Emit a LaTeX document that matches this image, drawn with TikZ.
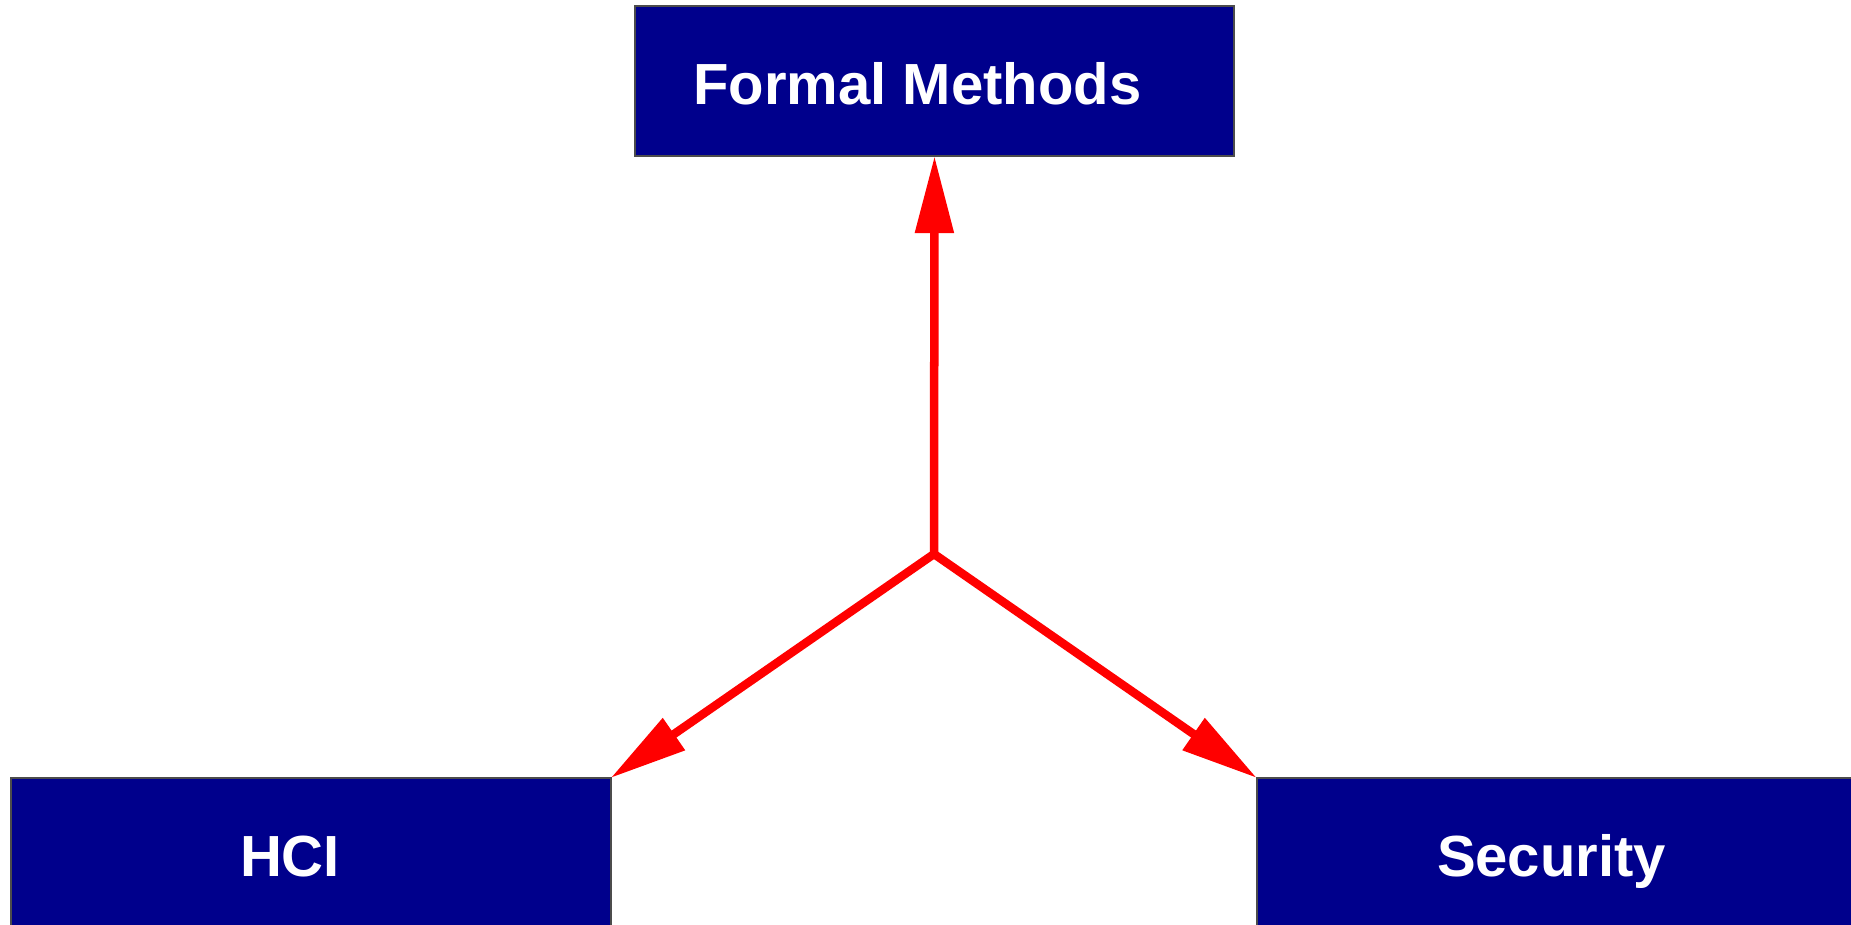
\documentclass[tikz,border=0pt]{standalone}
\usepackage{fontspec}
\setmainfont{Liberation Sans}
\usetikzlibrary{arrows.meta}
\definecolor{boxblue}{RGB}{0,0,140}
\tikzset{
  topic/.style={draw=black!70, line width=0.6pt, fill=boxblue, text=white,
    font=\fontsize{16.5}{20}\selectfont\bfseries, minimum width=5.99cm,
    minimum height=1.5cm, inner sep=0pt, outer sep=0pt,
    text height=0.47cm, text depth=0cm},
  link/.style={draw=red, line width=0.085cm,
    -{Triangle[length=0.77cm, width=0.37cm]}}
}
\begin{document}
\begin{tikzpicture}[x=0.01cm, y=-0.01cm]
\useasboundingbox (0,0) rectangle (1851,925);
\fill[white] (0,0) rectangle (1851,925);
\node[topic] (fm) at (934.5,81) {Formal Methods\rule{0.34cm}{0pt}};
\node[topic] (hci) at (311,853) {HCI\rule{0.42cm}{0pt}};
\node[topic] (sec) at (1556.5,853) {Security\rule{0.1cm}{0pt}};
\coordinate (hub) at (934,554);
\draw[link] (hub) -- (fm.south);
\draw[link] (hub) -- (hci.north east);
\draw[link] (hub) -- (sec.north west);
\end{tikzpicture}
\end{document}
